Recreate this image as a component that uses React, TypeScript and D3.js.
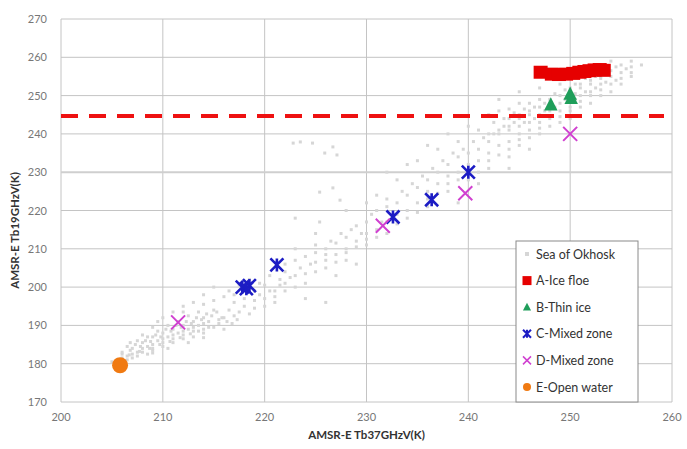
import React from 'react';
import * as d3 from 'd3';

// tick values
const xTicks = [200, 210, 220, 230, 240, 250, 260];
const yTicks = [170, 180, 190, 200, 210, 220, 230, 240, 250, 260, 270];

// threshold line (Tb19 value)
const thresholdY = 244.7;

// Sea of Okhosk background points [Tb37, Tb19]
const okhotsk: [number, number][] = [
  [205.5, 181], [206, 181.5], [206.5, 182], [206, 183], [207, 182.5], [207, 184], [207.5, 183], [208, 184],
  [208, 185.5], [208.5, 184.5], [209, 185], [209, 187], [209.5, 186], [210, 186.5], [210, 188], [210.5, 187],
  [211, 187.5], [211, 189], [211.5, 188], [212, 188.5], [212, 190], [212.5, 189], [213, 189.5], [213, 191],
  [213.5, 190], [214, 190.5], [214, 192], [214.5, 191], [206.5, 184.5], [207.5, 186], [208.5, 187], [209.5, 188.5],
  [210.5, 190], [211.5, 191], [212.5, 192.5], [213.5, 193.5], [208, 183], [209, 183.5], [210, 184.5], [211, 185.5],
  [212, 186.5], [213, 187], [214, 188], [215, 189.5], [215.5, 190.5], [216, 189], [205, 180.5], [207, 181.5],
  [208.5, 182.5], [206.5, 181], [207.5, 182], [209, 184], [210, 185.5], [211, 186.5], [212, 187.5], [213, 188.5],
  [214, 189], [209, 182.8], [210.5, 184], [212.5, 185.5], [214, 186.8], [206.8, 185.5], [208, 187.5], [209, 189.5],
  [206, 182.5], [206.8, 183.5], [207.3, 185], [207.8, 184.5], [208.3, 186], [208.8, 185.8], [209.3, 187.5],
  [209.8, 187], [210.3, 189], [210.8, 188.5], [211.3, 190], [211.8, 189.5], [212.3, 191], [212.8, 190.5],
  [213.3, 192], [213.8, 191.5], [214.3, 193], [214.8, 192.5], [215.3, 193.5], [215.8, 192], [216.3, 191],
  [216.8, 190.5], [217.3, 191.5], [215.5, 191.5], [214.5, 189.5], [213.5, 188.5], [212.7, 187.8], [211.7, 186.8],
  [210.7, 185.8], [209.7, 185], [208.7, 184], [207.7, 183.2], [206.7, 182.3],
  [210, 192], [209.5, 191], [211, 193.5], [212, 195], [213, 196], [214, 195.5], [215, 194], [215, 196.5],
  [216, 192], [216.5, 194], [217, 196], [217, 198], [216, 197.5], [218, 195], [218, 197], [219, 199],
  [219.5, 201], [218.5, 202], [220, 197], [220, 200.5], [220.5, 203], [221, 199], [221.5, 202], [222, 204],
  [222, 206], [223, 203], [223, 207], [223.5, 205], [224, 208], [224.5, 206], [225, 209], [225, 211],
  [226, 207], [226, 210], [226.5, 212], [227, 208.5], [227, 211.5], [227.5, 214], [228, 210], [228, 213],
  [228.5, 215], [229, 212], [229, 216], [229.5, 214], [230, 217], [230, 214], [230.5, 219], [231, 215],
  [231, 220], [231.5, 217], [232, 221], [232, 223], [233, 219], [233, 222], [233.5, 225], [234, 220],
  [234, 224], [234.5, 227], [235, 222], [235, 226], [235.5, 229], [236, 225], [236, 228], [236.5, 231],
  [237, 227], [237, 230], [237.5, 233], [238, 229], [238, 232], [238.5, 235], [239, 230], [239, 234],
  [239.5, 236], [240, 232], [240, 235], [240.5, 238], [241, 233], [241, 236], [241.5, 239], [242, 235],
  [242, 238], [242.5, 240], [243, 237], [243, 240], [243.5, 242], [244, 238], [244, 241], [244.5, 243],
  [245, 240], [245, 242], [245, 244], [245.5, 243], [246, 241], [246, 243], [246, 245], [246.5, 244],
  [247, 243], [247, 245], [247, 247], [247.5, 246], [248, 244], [248, 246], [248.5, 247], [249, 246],
  [249, 248], [249.5, 249], [250, 247], [250, 251], [250.5, 249], [251, 250], [251, 252], [251.5, 251],
  [252, 251], [252, 253], [252.5, 252], [253, 253], [253, 254.5], [253.5, 253.5], [254, 255], [254, 256.5],
  [254.5, 254], [255, 256], [255, 258], [255.5, 257], [256, 257.5],
  [217.5, 193.5], [218.5, 193], [219, 196.5], [220, 195], [221, 197.5], [222, 201], [223, 200], [219.5, 198],
  [218.5, 199.5], [217.5, 200.5], [216.5, 199], [220.5, 199], [221.5, 200.5], [222.5, 202.5], [224, 203.5],
  [225, 206.5], [226, 208.5], [227, 206.5], [228, 209], [229, 210.5], [230, 212.5], [231, 213], [232, 217],
  [233, 216.5], [234, 218], [235, 219.5], [236, 223], [237, 224.5], [238, 227], [239, 228], [240, 230.5],
  [241, 230], [242, 233], [243, 234.5], [244, 236], [245, 238.5], [246, 239], [247, 241.5], [248, 242],
  [249, 244.5], [250, 246], [251, 248.5], [252, 250], [253, 251.5], [254, 253], [255, 254.5], [256, 256],
  [215, 200], [214, 198], [212, 193.5], [217, 192.5], [219, 194.5], [221, 196], [222, 199], [224, 201],
  [225, 204], [226, 205], [223, 210], [225, 214], [228, 207], [230, 211], [232, 214], [231, 224],
  [233, 228], [236, 221], [238, 225], [240, 228], [230, 222], [228, 220], [235, 233], [237, 236],
  [239, 238], [241, 241], [242, 231], [244, 234], [245, 237], [243, 246], [245, 248], [247, 240],
  [249, 243], [250, 244], [251, 247], [252, 248], [253, 250], [254, 251], [247, 252], [245, 251],
  [249, 253], [256, 255], [257, 258], [256, 259], [254, 259], [255, 253], [252, 257], [243, 249],
  [242, 245], [240, 242], [238, 240], [236, 237], [234, 232], [232, 230], [239, 222], [241, 227],
  [244, 231], [246, 236], [226, 196], [224, 197], [229, 206], [227, 203],
  [222.8, 237.6], [223.5, 237.9], [224.7, 237.6], [225.9, 235], [226.7, 236.6], [227.1, 234.5], [225.4, 224.8],
  [226.7, 225.9], [227.4, 222.7], [223, 218], [225.4, 217],
  [242, 240], [243, 241], [244, 242], [244, 244], [245, 245], [246, 246], [246.5, 247], [247.5, 248],
  [248, 249], [249, 250], [250, 252], [251, 253], [252, 254], [253, 255], [251.5, 254.5], [250.5, 253],
  [248.5, 250.5], [247, 249], [243.5, 244], [244.5, 245.5], [245.5, 246.5], [248, 247.5], [249.5, 251.5],
  [250.5, 250.5], [252.5, 255], [253.5, 256], [254.5, 257.5], [246, 248], [244, 246.5], [242.5, 243],
];

// A-Ice floe
const iceFloe: [number, number][] = [
  [247.1, 256.1], [248.2, 255.6], [248.9, 255.5], [249.6, 255.6], [250.3, 255.8], [250.9, 256.1], [251.4, 256.3],
  [251.9, 256.5], [252.4, 256.7], [252.9, 256.8], [253.3, 256.6],
];
// B-Thin ice
const thinIce: [number, number][] = [[248.1, 247.6], [250, 250.4], [250.1, 249.3]];
// C-Mixed zone
const mixedC: [number, number][] = [
  [217.8, 200], [218.5, 200.4], [218.2, 199.6], [221.2, 205.8], [232.6, 218.3], [236.4, 222.8], [240, 230],
];
// D-Mixed zone
const mixedD: [number, number][] = [[211.5, 190.8], [231.6, 216], [239.7, 224.5], [250, 240]];
// E-Open water
const openWater: [number, number][] = [[205.8, 179.6]];

const legendItems = [
  'Sea of Okhosk',
  'A-Ice floe',
  'B-Thin ice',
  'C-Mixed zone',
  'D-Mixed zone',
  'E-Open water',
];

const W = 687;
const H = 449;
const margin = { left: 61, right: 15, top: 19, bottom: 47 };
const font = 'Lato, "Open Sans", sans-serif';

const starPath = (h: number) => `M${-h},${-h}L${h},${h}M${-h},${h}L${h},${-h}M0,${-h}L0,${h}`;
const crossPath = (h: number) => `M${-h},${-h}L${h},${h}M${-h},${h}L${h},${-h}`;
const triPath = (h: number) => `M0,${-h}L${h * 0.9},${h * 0.75}L${-h * 0.9},${h * 0.75}Z`;

export default function App() {
  const x = d3.scaleLinear().domain([200, 260]).range([margin.left, W - margin.right]);
  const y = d3.scaleLinear().domain([170, 270]).range([H - margin.bottom, margin.top]);
  const [x0, x1] = x.range();
  const [y0, y1] = y.range();

  const legendMarker = (i: number) => {
    switch (i) {
      case 0:
        return <rect x={-2} y={-2} width={4} height={4} fill="#d6d6d6" />;
      case 1:
        return <rect x={-4.5} y={-4.5} width={9} height={9} fill="#e60000" />;
      case 2:
        return <path d={triPath(4.5)} fill="#1f9e5a" />;
      case 3:
        return <path d={starPath(4)} stroke="#1c1cc4" strokeWidth={2} />;
      case 4:
        return <path d={crossPath(4)} stroke="#d040d0" strokeWidth={1.5} />;
      default:
        return <circle r={4} fill="#f07a12" />;
    }
  };

  return (
    <svg width={W} height={H} style={{ position: 'absolute', left: 0, top: 0, background: '#fff' }}>
      {/* grid */}
      <g stroke="#c4c4c4" strokeWidth={1}>
        {xTicks.map((t) => (
          <line key={'gx' + t} x1={x(t)} x2={x(t)} y1={y1} y2={y0} />
        ))}
        {yTicks.map((t) => (
          <line
            key={'gy' + t}
            x1={x0}
            x2={x1}
            y1={y(t)}
            y2={y(t)}
            strokeWidth={t === 230 ? 2 : 1}
            stroke={t === 230 ? '#cfcfcf' : '#c4c4c4'}
          />
        ))}
      </g>

      {/* tick labels */}
      <g fontFamily={font} fontSize={11} fill="#777">
        {xTicks.map((t) => (
          <text key={'tx' + t} x={x(t)} y={y0 + 19} textAnchor="middle">
            {t}
          </text>
        ))}
        {yTicks.map((t) => (
          <text key={'ty' + t} x={x0 - 14} y={y(t) + 4} textAnchor="end">
            {t}
          </text>
        ))}
      </g>

      {/* axis titles */}
      <text x={(x0 + x1) / 2} y={H - 10} textAnchor="middle" fontFamily={font} fontSize={11.5} fontWeight="bold" fill="#333">
        AMSR-E Tb37GHzV(K)
      </text>
      <text
        transform={`translate(19, ${(y0 + y1) / 2 + 20}) rotate(-90)`}
        textAnchor="middle"
        fontFamily={font}
        fontSize={11.5}
        fontWeight="bold"
        fill="#333"
      >
        AMSR-E Tb19GHzV(K)
      </text>

      {/* Sea of Okhosk */}
      <g fill="#d6d6d6">
        {okhotsk.map((d, i) => (
          <rect key={'o' + i} x={x(d[0]) - 1.5} y={y(d[1]) - 1.5} width={3} height={3} />
        ))}
      </g>

      {/* threshold */}
      <line
        x1={x0}
        x2={x1 - 8}
        y1={y(thresholdY)}
        y2={y(thresholdY)}
        stroke="#ee1111"
        strokeWidth={4}
        strokeDasharray="17 11"
      />

      {/* A-Ice floe */}
      <g fill="#e60000">
        {iceFloe.map((d, i) => (
          <rect key={'a' + i} x={x(d[0]) - 7} y={y(d[1]) - 6.5} width={14} height={13} />
        ))}
      </g>
      {/* B-Thin ice */}
      <g fill="#1f9e5a">
        {thinIce.map((d, i) => (
          <path key={'b' + i} d={triPath(7.5)} transform={`translate(${x(d[0])},${y(d[1])})`} />
        ))}
      </g>
      {/* C-Mixed zone */}
      <g stroke="#1c1cc4" strokeWidth={2.6} fill="none">
        {mixedC.map((d, i) => (
          <path key={'c' + i} d={starPath(6.5)} transform={`translate(${x(d[0])},${y(d[1])})`} />
        ))}
      </g>
      {/* D-Mixed zone */}
      <g stroke="#d040d0" strokeWidth={2} fill="none">
        {mixedD.map((d, i) => (
          <path key={'d' + i} d={crossPath(7)} transform={`translate(${x(d[0])},${y(d[1])})`} />
        ))}
      </g>
      {/* E-Open water */}
      <g fill="#f07a12">
        {openWater.map((d, i) => (
          <circle key={'e' + i} cx={x(d[0])} cy={y(d[1])} r={8} />
        ))}
      </g>

      {/* legend */}
      <g transform="translate(516, 241)">
        <rect x={0} y={0} width={122} height={161} fill="#fff" stroke="#8a8a8a" strokeWidth={1} />
        {legendItems.map((name, i) => (
          <g key={name} transform={`translate(11, ${13 + i * 26.6})`}>
            {legendMarker(i)}
            <text x={9} y={4.5} fontFamily={font} fontSize={12.5} fill="#333">
              {name}
            </text>
          </g>
        ))}
      </g>
    </svg>
  );
}
